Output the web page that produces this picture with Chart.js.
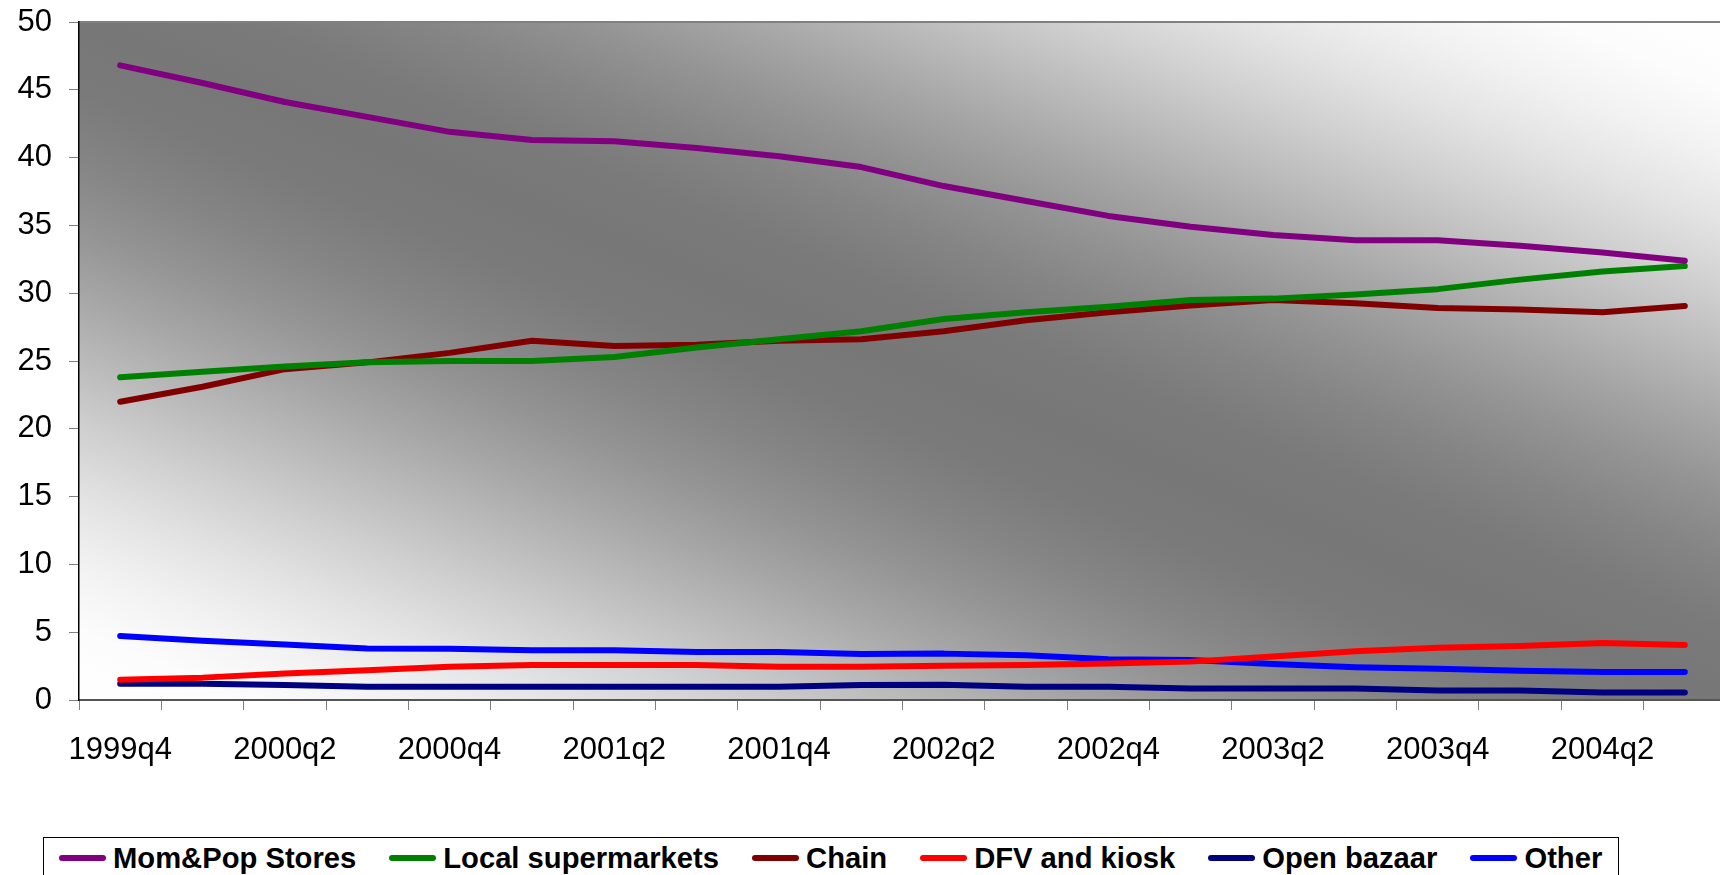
<!DOCTYPE html>
<html>
<head>
<meta charset="utf-8">
<script src="https://cdn.jsdelivr.net/npm/chart.js@4.4.0/dist/chart.umd.min.js"></script>
<style>
  html, body { margin: 0; padding: 0; background: #fff; overflow: hidden; }
  #wrap { position: relative; width: 1726px; height: 875px; }
  #chart { position: absolute; left: 0; top: 0; }
  #legend {
    position: absolute; left: 43px; top: 837px; width: 1576px; height: 60px;
    box-sizing: border-box; border: 1px solid #000; padding: 3px 0 0 15px;
    display: flex; align-items: flex-start;
    font: bold 29.2px "Liberation Sans", Arial, sans-serif; color: #000;
  }
  .item { display: flex; align-items: center; height: 34px; line-height: 34px; margin-right: 33px; white-space: nowrap; }
  .swatch { width: 47px; height: 6px; border-radius: 3px; margin-right: 7px; }
</style>
</head>
<body>
<div id="wrap">
  <canvas id="chart" width="1726" height="790"></canvas>
  <div id="legend"></div>
</div>
<script>
// quarters on the x axis
const quarters = ['1999q4', '2000q1', '2000q2', '2000q3', '2000q4', '2001q1', '2001q2', '2001q3',
  '2001q4', '2002q1', '2002q2', '2002q3', '2002q4', '2003q1', '2003q2', '2003q3',
  '2003q4', '2004q1', '2004q2', '2004q3'];

// shares
const momPop = [46.8, 45.5, 44.1, 43.0, 41.9, 41.3, 41.2, 40.7, 40.1, 39.3,
  37.9, 36.8, 35.7, 34.9, 34.3, 33.9, 33.9, 33.5, 33.0, 32.4];
const localSuper = [23.8, 24.2, 24.6, 24.9, 25.0, 25.0, 25.3, 26.0, 26.6, 27.2,
  28.1, 28.6, 29.0, 29.5, 29.6, 29.9, 30.3, 31.0, 31.6, 32.0];
const chain = [22.0, 23.1, 24.4, 24.9, 25.6, 26.5, 26.1, 26.2, 26.5, 26.6,
  27.2, 28.0, 28.6, 29.1, 29.5, 29.25, 28.9, 28.8, 28.6, 29.05];
const dfvKiosk = [1.5, 1.65, 1.95, 2.2, 2.45, 2.58, 2.58, 2.58, 2.46, 2.46,
  2.53, 2.58, 2.7, 2.83, 3.2, 3.6, 3.86, 3.98, 4.2, 4.06];
const openBazaar = [1.2, 1.2, 1.1, 0.98, 0.98, 0.98, 0.98, 0.98, 0.98, 1.1,
  1.12, 0.98, 0.98, 0.84, 0.84, 0.84, 0.7, 0.7, 0.55, 0.55];
const other = [4.72, 4.37, 4.1, 3.8, 3.78, 3.66, 3.66, 3.54, 3.54, 3.4,
  3.42, 3.3, 3.0, 2.95, 2.65, 2.42, 2.3, 2.16, 2.06, 2.06];

const yTicks = [0, 5, 10, 15, 20, 25, 30, 35, 40, 45, 50];

const FONT = '"Liberation Sans", Arial, sans-serif';

// grey diagonal gradient behind the plot, dark along the top-left/bottom-right diagonal
// (cosine falloff so the dark band is wide and the corners stay light)
const gradientBg = {
  id: 'gradientBg',
  beforeDraw(chart) {
    const { ctx, chartArea: a } = chart;
    const w = a.right - a.left, h = a.bottom - a.top;
    const cx = a.left + w / 2, cy = a.top + h / 2;
    const k = w * h / (w * w + h * h);
    const g = ctx.createLinearGradient(cx - k * h, cy + k * w, cx + k * h, cy - k * w);
    for (let i = 0; i <= 20; i++) {
      const t = i / 20;
      const v = Math.round(119 + 136 * (0.5 + 0.5 * Math.cos(2 * Math.PI * t)));
      g.addColorStop(t, `rgb(${v},${v},${v})`);
    }
    ctx.save();
    ctx.fillStyle = g;
    ctx.fillRect(a.left, a.top, w, h);
    ctx.strokeStyle = '#808080';
    ctx.lineWidth = 2;
    ctx.beginPath();
    ctx.moveTo(a.left, a.top);
    ctx.lineTo(a.right, a.top);
    ctx.stroke();
    ctx.restore();
  }
};

function series(label, data, color) {
  return {
    label: label,
    data: data,
    borderColor: color,
    backgroundColor: color,
    borderWidth: 6,
    pointRadius: 0,
    tension: 0,
    borderCapStyle: 'round',
    borderJoinStyle: 'round'
  };
}

const ctx = document.getElementById('chart').getContext('2d');
const chart = new Chart(ctx, {
  type: 'line',
  data: {
    labels: quarters,
    datasets: [
      series('Mom&Pop Stores', momPop, '#800080'),
      series('Local supermarkets', localSuper, '#008000'),
      series('Chain', chain, '#800000'),
      series('DFV and kiosk', dfvKiosk, '#ff0000'),
      series('Open bazaar', openBazaar, '#000080'),
      series('Other', other, '#0000ff')
    ]
  },
  options: {
    responsive: false,
    animation: false,
    layout: { padding: { top: 22, right: 0, left: 0, bottom: 0 } },
    plugins: {
      legend: { display: false },
      tooltip: { enabled: false }
    },
    scales: {
      x: {
        offset: true,
        grid: { drawOnChartArea: false, drawTicks: true, tickLength: 10, color: '#808080', offset: true },
        border: { color: '#555555', width: 2 },
        ticks: {
          autoSkip: false,
          maxRotation: 0,
          padding: 22,
          color: '#000',
          font: { family: FONT, size: 31 },
          callback: (v, i) => (i % 2 === 0 ? quarters[i] : '')
        },
        afterFit: scale => {
          scale.height = 90;
          scale.paddingLeft = 0;
          scale.paddingRight = 0;
        }
      },
      y: {
        min: 0,
        max: 50,
        afterBuildTicks: scale => { scale.ticks = yTicks.map(v => ({ value: v })); },
        grid: { drawOnChartArea: false, drawTicks: true, tickLength: 10, color: '#808080' },
        border: { color: '#000', width: 1.5 },
        ticks: {
          padding: 17,
          color: '#000',
          font: { family: FONT, size: 31 }
        },
        afterFit: scale => {
          scale.width = 79;
          scale.paddingTop = 0;
          scale.paddingBottom = 0;
        }
      }
    }
  },
  plugins: [gradientBg]
});

// legend box below the chart, built from the datasets
const legendEl = document.getElementById('legend');
chart.data.datasets.forEach(ds => {
  const item = document.createElement('div');
  item.className = 'item';
  const sw = document.createElement('span');
  sw.className = 'swatch';
  sw.style.background = ds.borderColor;
  const txt = document.createElement('span');
  txt.textContent = ds.label;
  item.appendChild(sw);
  item.appendChild(txt);
  legendEl.appendChild(item);
});
</script>
</body>
</html>
